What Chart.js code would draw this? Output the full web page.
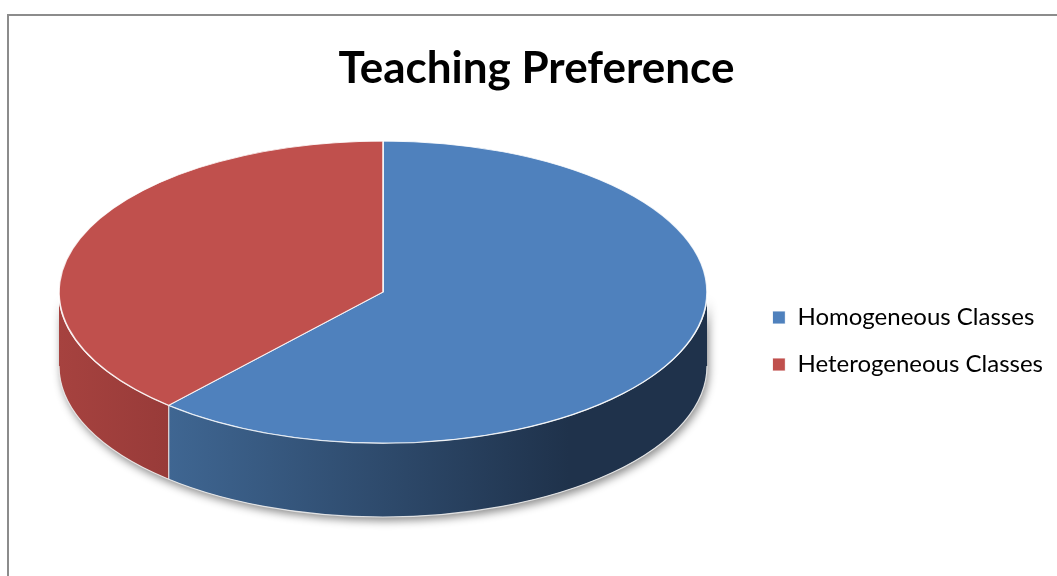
<!DOCTYPE html>
<html>
<head>
<meta charset="utf-8">
<script src="https://cdn.jsdelivr.net/npm/chart.js"></script>
<style>
  html, body { margin: 0; padding: 0; background: #fff; overflow: hidden; }
  #frame { position: absolute; left: 7px; top: 14px; width: 1100px; height: 600px;
           border-left: 2px solid #8c8c8c; border-top: 2px solid #8c8c8c; }
  #wrap { position: absolute; left: 0; top: 0; width: 1057px; height: 576px; }
</style>
</head>
<body>
<div id="frame"></div>
<div id="wrap"><canvas id="chart1"></canvas></div>
<script>
// data (share of teachers, %)
const labels = ["Homogeneous Classes", "Heterogeneous Classes"];
const values = [61.5, 38.5];
const topColors = ["#4F81BD", "#C0504D"];
const sideColors = [["#3F6692", "#1F324B"], ["#A6423F", "#983B39"]];

// where the tilted pie sits on the page
const pie3d = { cx: 383, cy: 292, rx: 324, ry: 151, depth: 74 };

// draws the pie as a flattened disc with a side wall
const tiltPlugin = {
  id: "tilt",
  beforeDatasetsDraw(chart) {
    const ctx = chart.ctx;
    const arcs = chart.getDatasetMeta(0).data;
    const { cx, cy, rx, ry, depth } = pie3d;

    // soft shadow under the wall
    ctx.save();
    ctx.shadowColor = "rgba(0,0,0,0.45)";
    ctx.shadowBlur = 9;
    ctx.shadowOffsetX = 2;
    ctx.shadowOffsetY = 4;
    ctx.beginPath();
    ctx.ellipse(cx, cy, rx, ry, 0, 0, Math.PI);
    ctx.ellipse(cx, cy + depth, rx, ry, 0, Math.PI, 0, true);
    ctx.closePath();
    ctx.fillStyle = "#fff";
    ctx.fill();
    ctx.restore();

    // wall of each slice, only the front half shows
    const edges = [];
    arcs.forEach((arc, i) => {
      for (let k = -1; k <= 1; k++) {
        const lo = Math.max(arc.startAngle, 2 * Math.PI * k);
        const hi = Math.min(arc.endAngle, 2 * Math.PI * k + Math.PI);
        if (hi <= lo) continue;
        const x1 = cx + rx * Math.cos(hi);
        const x2 = cx + rx * Math.cos(lo);
        const grad = ctx.createLinearGradient(x1, 0, i === 0 ? x1 + 400 : x2, 0);
        grad.addColorStop(0, sideColors[i][0]);
        grad.addColorStop(1, sideColors[i][1]);
        ctx.beginPath();
        ctx.ellipse(cx, cy, rx, ry, 0, lo, hi);
        ctx.ellipse(cx, cy + depth, rx, ry, 0, hi, lo, true);
        ctx.closePath();
        ctx.fillStyle = grad;
        ctx.fill();
        if (lo > 2 * Math.PI * k + 0.01) edges.push(lo);
      }
    });

    // light rim lines
    ctx.save();
    ctx.strokeStyle = "rgba(255,255,255,0.85)";
    ctx.lineWidth = 1.5;
    ctx.beginPath();
    ctx.ellipse(cx, cy, rx, ry, 0, 0, Math.PI);
    ctx.stroke();
    ctx.strokeStyle = "rgba(235,235,235,0.9)";
    ctx.lineWidth = 1.2;
    ctx.beginPath();
    ctx.ellipse(cx, cy + depth, rx, ry, 0, 0, Math.PI);
    ctx.stroke();
    edges.forEach(a => {
      const x = cx + rx * Math.cos(a);
      const y = cy + ry * Math.sin(a);
      ctx.beginPath();
      ctx.moveTo(x, y);
      ctx.lineTo(x, y + depth);
      ctx.stroke();
    });
    ctx.restore();

    // squash the top face into the ellipse
    const a0 = arcs[0];
    const r = a0.outerRadius;
    ctx.save();
    ctx.translate(cx, cy);
    ctx.scale(rx / r, ry / r);
    ctx.translate(-a0.x, -a0.y);
  },
  afterDatasetsDraw(chart) {
    chart.ctx.restore();
  },
};

new Chart("chart1", {
  type: "pie",
  data: {
    labels: labels,
    datasets: [
      {
        data: values,
        backgroundColor: topColors,
        borderColor: "rgba(255,255,255,0.85)",
        borderWidth: 1.2,
        clip: false,
      },
    ],
  },
  options: {
    responsive: true,
    maintainAspectRatio: false,
    animation: false,
    events: [],
    layout: { padding: { left: 20, right: 4, top: 0, bottom: 0 } },
    plugins: {
      title: {
        display: true,
        text: "Teaching Preference",
        color: "#000",
        font: { family: "Lato", size: 44, weight: "bold" },
        padding: { top: 42, bottom: 10 },
      },
      legend: {
        position: "right",
        // empty title only pushes the entries down
        title: { display: true, text: " ", font: { size: 10 }, padding: 47 },
        labels: {
          color: "#000",
          font: { family: "Lato", size: 24 },
          boxWidth: 13,
          boxHeight: 13,
          padding: 23,
        },
      },
      tooltip: { enabled: false },
    },
  },
  plugins: [tiltPlugin],
});
</script>
</body>
</html>
